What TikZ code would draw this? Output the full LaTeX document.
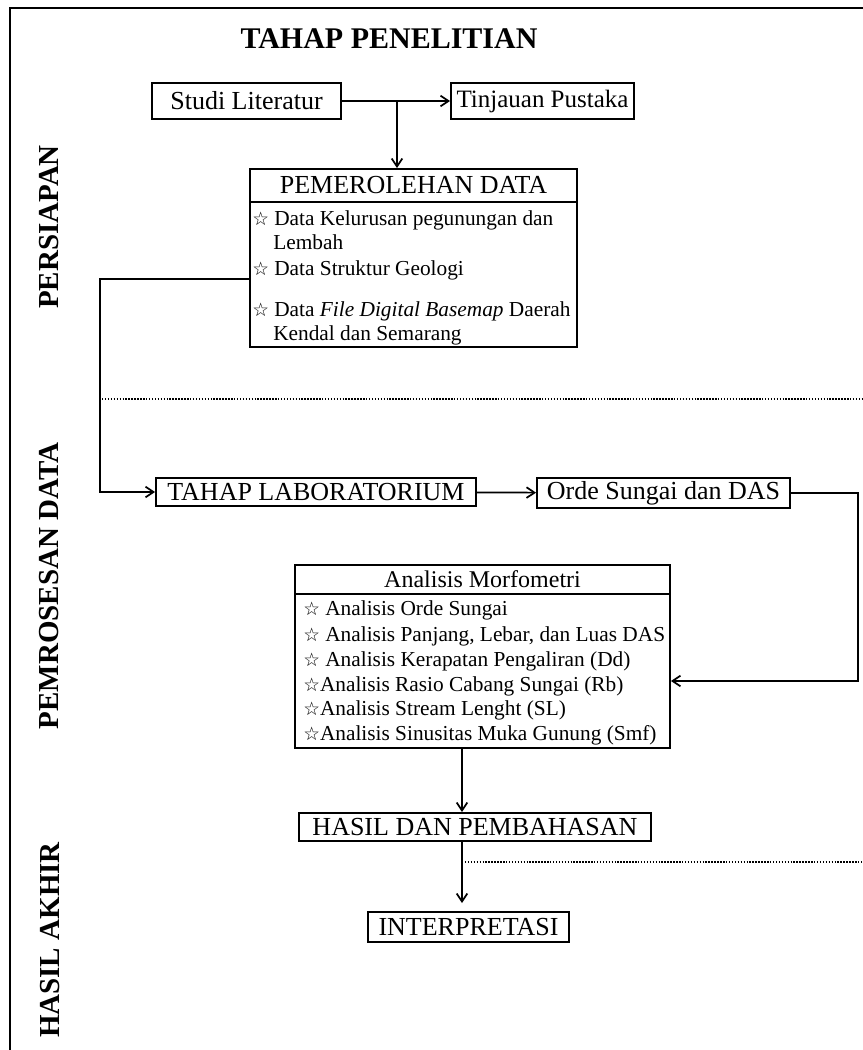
\documentclass[tikz,border=0pt]{standalone}
\usepackage{fontspec}
\setmainfont{Liberation Serif}
\newfontfamily\bintangfont{DejaVu Sans}
\usepackage{tikz}
\usetikzlibrary{arrows.meta}

\newcommand{\bintang}{{\bintangfont\fontsize{14pt}{14pt}\selectfont ☆}}

\tikzset{
  kotak/.style={draw, line width=1.4pt, inner sep=0pt, font=\fontsize{19.5pt}{20pt}\selectfont},
  isi/.style={anchor=base west, inner sep=0pt, font=\fontsize{16pt}{17pt}\selectfont},
  tahap/.style={rotate=90, inner sep=0pt, font=\bfseries\fontsize{21.75pt}{22pt}\selectfont},
  garis/.style={line width=1.3pt},
  titik/.style={line width=1.5pt, dash pattern=on 1.1pt off 1.1pt}
}

\begin{document}
\begin{tikzpicture}[x=0.75pt, y=-0.75pt, >={Straight Barb[length=6pt,width=8pt]}]
    \useasboundingbox (0,0) rectangle (863,1050);

    % Draw frame
    \draw[line width=2.2pt] (863,8) -- (10,8) -- (10,1050);

    % Draw title and stage labels
    \node[font=\bfseries\fontsize{22.5pt}{24pt}\selectfont] (judul) at (389,39) {TAHAP PENELITIAN};
    \node[tahap] (persiapan) at (49,227) {PERSIAPAN};
    \node[tahap] (pemrosesan) at (49,586) {PEMROSESAN DATA};
    \node[tahap] (hasilakhir) at (50,940) {HASIL AKHIR};

    % Draw top boxes
    \node[kotak, minimum width=141.75pt, minimum height=27pt] (studi) at (246.5,101) {Studi Literatur};
    \node[kotak, minimum width=137.25pt, minimum height=27pt, font=\fontsize{18.75pt}{20pt}\selectfont] (tinjauan) at (542.5,101) {Tinjauan Pustaka};

    % Draw data box
    \node[kotak, minimum width=245.25pt, minimum height=24.75pt] (pemhead) at (413.5,185.5) {PEMEROLEHAN DATA};
    \node[kotak, minimum width=245.25pt, minimum height=108.75pt] (pembody) at (413.5,274.5) {};
    \node[isi] (p1) at (252,225) {\bintang\ Data Kelurusan pegunungan dan};
    \node[isi] (p2) at (273,249) {Lembah};
    \node[isi] (p3) at (252,275) {\bintang\ Data Struktur Geologi};
    \node[isi] (p4) at (252,316) {\bintang\ Data \textit{File Digital Basemap} Daerah};
    \node[isi] (p5) at (273,340) {Kendal dan Semarang};

    % Draw laboratory boxes
    \node[kotak, minimum width=240pt, minimum height=21pt] (lab) at (316,492) {TAHAP LABORATORIUM};
    \node[kotak, minimum width=189.75pt, minimum height=22.5pt] (orde) at (663.5,493) {Orde Sungai dan DAS};

    % Draw morphometry box
    \node[kotak, minimum width=281.25pt, minimum height=21.75pt, font=\fontsize{18pt}{19pt}\selectfont] (anhead) at (482.5,579.5) {Analisis Morfometri};
    \node[kotak, minimum width=281.25pt, minimum height=115.5pt] (anbody) at (482.5,671) {};
    \node[isi] (a1) at (303,615) {\bintang\ Analisis Orde Sungai};
    \node[isi] (a2) at (303,641) {\bintang\ Analisis Panjang, Lebar, dan Luas DAS};
    \node[isi] (a3) at (303,666) {\bintang\ Analisis Kerapatan Pengaliran (Dd)};
    \node[isi] (a4) at (303,691) {\bintang Analisis Rasio Cabang Sungai (Rb)};
    \node[isi] (a5) at (303,715) {\bintang Analisis Stream Lenght (SL)};
    \node[isi] (a6) at (303,740) {\bintang Analisis Sinusitas Muka Gunung (Smf)};

    % Draw result boxes
    \node[kotak, minimum width=264pt, minimum height=21pt] (hasil) at (475,827) {HASIL DAN PEMBAHASAN};
    \node[kotak, minimum width=150.75pt, minimum height=22.5pt] (interp) at (468.5,927) {INTERPRETASI};

    % Draw connectors
    \coordinate (cabang) at (397,101);
    \coordinate (belok) at (100,279);
    \coordinate (belok2) at (858,681);
    \coordinate (tengah) at (462,862);
    \draw[garis,->] (studi) -- (tinjauan);
    \draw[garis,->] (cabang) -- (cabang |- pemhead.north);
    \draw[garis,->] (pembody.west |- belok) -- (belok) |- (lab.west);
    \draw[garis,->] (lab) -- (orde);
    \draw[garis,->] (orde.east) -| (belok2) -- (anbody.east |- belok2);
    \draw[garis,->] (anbody.south -| tengah) -- (hasil.north -| tengah);
    \draw[garis,->,shorten >=6pt] (hasil.south -| tengah) -- (interp.north -| tengah);

    % Draw dotted separators
    \draw[titik] (102,399) -- (863,399);
    \draw[titik] (tengah) -- (863,862);
\end{tikzpicture}
\end{document}
